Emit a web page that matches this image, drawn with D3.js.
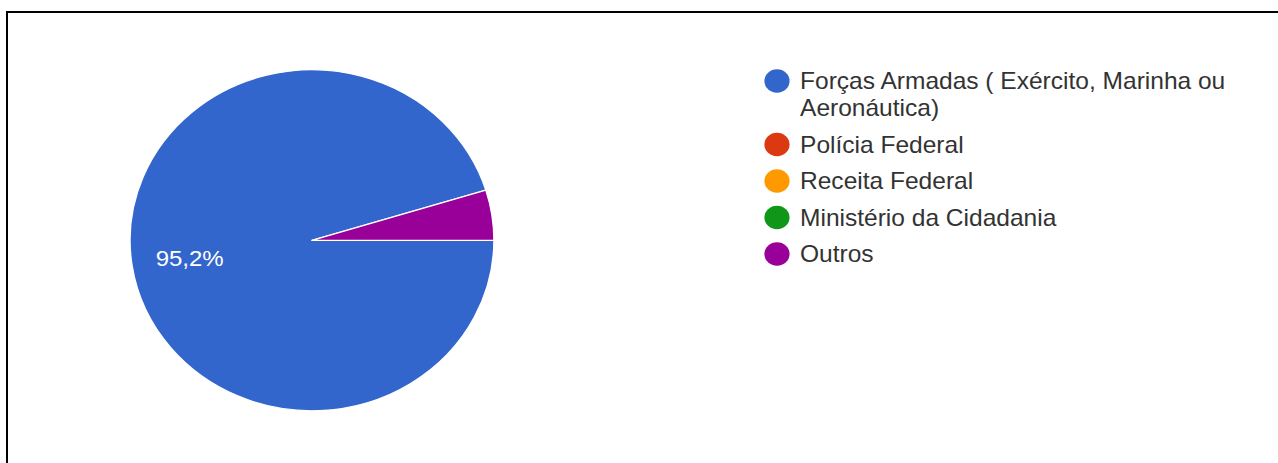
<!DOCTYPE html>
<html>
<head>
<meta charset="utf-8">
<script src="https://cdn.jsdelivr.net/npm/d3@7"></script>
<style>
  html, body { margin: 0; padding: 0; background: #fff; }
  svg { display: block; }
</style>
</head>
<body>
<svg id="chart" width="1278" height="463"></svg>
<script>
// Survey answers: which agency
const categories = [
  "Forças Armadas ( Exército, Marinha ou Aeronáutica)",
  "Polícia Federal",
  "Receita Federal",
  "Ministério da Cidadania",
  "Outros"
];
const counts = [20, 0, 0, 0, 1];
const colors = ["#3366cc", "#dc3912", "#ff9900", "#109618", "#990099"];

const W = 1278, H = 463;
const sx = 1.067;                 // horizontal stretch of the drawing
const svg = d3.select("#chart");

// outer frame (top and left edges)
svg.append("path")
  .attr("d", `M7,${H} L7,12 L${W},12`)
  .attr("fill", "none")
  .attr("stroke", "#000")
  .attr("stroke-width", 2);

const g = svg.append("g").attr("transform", `scale(${sx},1)`);

const data = categories.map((c, i) => ({ name: c, value: counts[i], color: colors[i] }));
const total = d3.sum(counts);

const R = 170.5;
const cx = 292.4, cy = 240.3;

const pie = d3.pie()
  .value(d => d.value)
  .sort(null)
  .startAngle(Math.PI / 2)
  .endAngle(Math.PI / 2 + 2 * Math.PI);

const arc = d3.arc().innerRadius(0).outerRadius(R);
const labelArc = d3.arc().innerRadius(R * 0.68).outerRadius(R * 0.68);

const pg = g.append("g").attr("transform", `translate(${cx},${cy})`);
const arcs = pie(data).filter(d => d.data.value > 0);

pg.selectAll("path.slice")
  .data(arcs)
  .join("path")
  .attr("class", "slice")
  .attr("d", arc)
  .attr("fill", d => d.data.color)
  .attr("stroke", "#fff")
  .attr("stroke-width", 1.3)
  .attr("stroke-linejoin", "round");

const fmt = v => (v * 100).toFixed(1).replace(".", ",") + "%";

pg.selectAll("text.pct")
  .data(arcs.filter(d => d.data.value / total > 0.05))
  .join("text")
  .attr("class", "pct")
  .attr("transform", d => `translate(${labelArc.centroid(d)})`)
  .attr("text-anchor", "middle")
  .attr("dy", "0.36em")
  .attr("fill", "#fff")
  .style("font-family", "'Liberation Sans', Arial, sans-serif")
  .style("font-size", "22.5px")
  .text(d => fmt(d.data.value / total));

// legend
const legX = 728.2, legY0 = 81, rowGap = 36.5, lineGap = 27, maxW = 440;
const lg = g.append("g");
let y = legY0;
data.forEach(d => {
  const row = lg.append("g");
  row.append("circle")
    .attr("cx", legX)
    .attr("cy", y)
    .attr("r", 11.8)
    .attr("fill", d.color);
  const txt = row.append("text")
    .attr("x", legX + 21.6)
    .attr("y", y)
    .attr("dy", "0.36em")
    .attr("fill", "#333")
    .style("font-family", "'Liberation Sans', Arial, sans-serif")
    .style("font-size", "23px");
  // wrap long names onto several lines
  const words = d.name.split(" ");
  let line = [];
  let tspan = txt.append("tspan").attr("x", legX + 21.6);
  let nLines = 1;
  words.forEach(w => {
    line.push(w);
    tspan.text(line.join(" "));
    if (tspan.node().getComputedTextLength() > maxW && line.length > 1) {
      line.pop();
      tspan.text(line.join(" "));
      line = [w];
      tspan = txt.append("tspan").attr("x", legX + 21.6).attr("dy", lineGap).text(w);
      nLines++;
    }
  });
  y += rowGap + (nLines - 1) * lineGap;
});
</script>
</body>
</html>
